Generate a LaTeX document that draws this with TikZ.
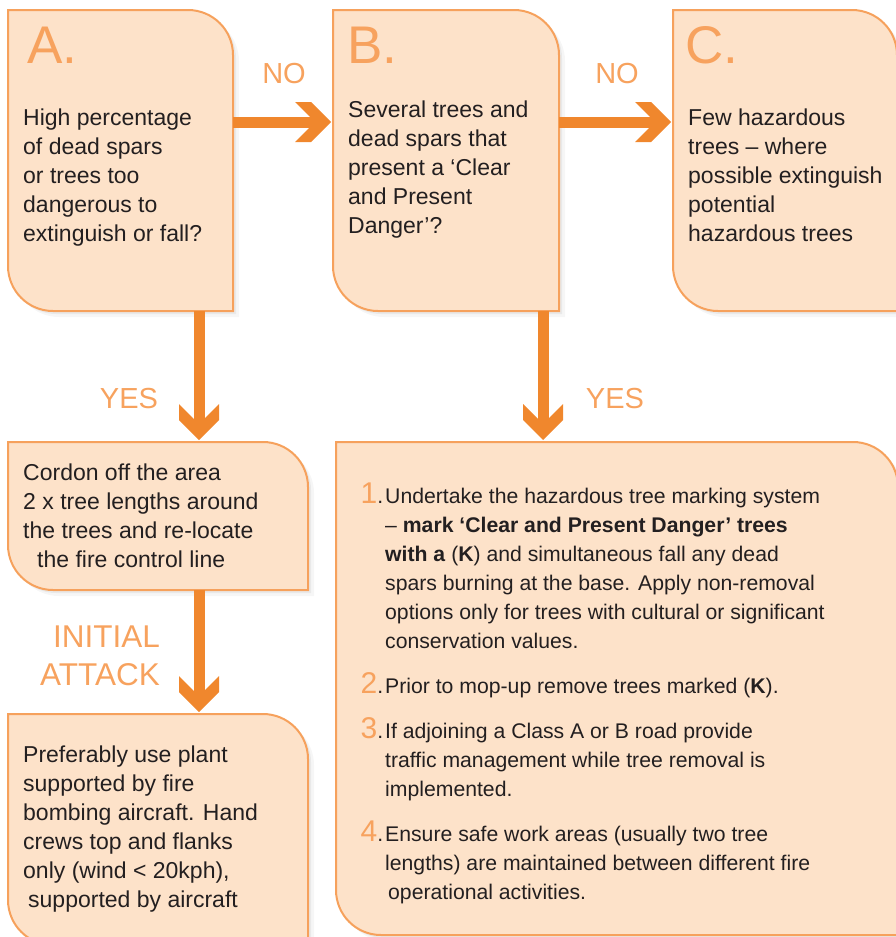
\documentclass[tikz,border=0pt]{standalone}
\usepackage{fontspec}
\setmainfont{Liberation Sans}
\usetikzlibrary{calc}
\definecolor{boxfill}{HTML}{FDE2C9}
\definecolor{boxline}{HTML}{F6A15C}
\definecolor{arrowc}{HTML}{F0872D}
\definecolor{labelc}{HTML}{F7A25E}
\definecolor{textc}{HTML}{231F20}
\newcommand\bodyfont{\fontsize{23}{29}\selectfont}
\newcommand\bigfont{\fontsize{21.2}{29}\selectfont}
\newcommand\labfont{\fontsize{29}{38}\selectfont}
\newcommand\initfont{\fontsize{31.5}{38}\selectfont}
\newcommand\letfont{\fontsize{53}{60}\selectfont}
\newcommand\numfont{\fontsize{30}{30}\selectfont}
\newcommand\flines[1]{\begin{tabular}[t]{@{}l@{}}#1\end{tabular}}
\newcommand\itemnum[1]{\llap{\smash{\textcolor{labelc}{\numfont #1}}.\hspace{2pt}}}
\newcommand\boxpath[1]{(#1.north west) -- ([xshift=-45pt]#1.north east) arc[start angle=-90,end angle=0,radius=45] -- (#1.south east) -- ([xshift=45pt]#1.south west) arc[start angle=90,end angle=180,radius=45] -- cycle}
\pgfdeclarearrow{
  name = Chev,
  setup code = {
    \pgfarrowssettipend{0pt}
    \pgfarrowssetlineend{-8pt}
    \pgfarrowssetvisualbackend{-35pt}
    \pgfarrowssetbackend{-35pt}
    \pgfarrowshullpoint{0pt}{0pt}
    \pgfarrowshullpoint{-35pt}{20pt}
    \pgfarrowshullpoint{-35pt}{-20pt}
  },
  drawing code = {
    \pgfpathmoveto{\pgfqpoint{0pt}{0pt}}
    \pgfpathlineto{\pgfqpoint{-20pt}{20pt}}
    \pgfpathlineto{\pgfqpoint{-36pt}{20pt}}
    \pgfpathlineto{\pgfqpoint{-16pt}{0pt}}
    \pgfpathlineto{\pgfqpoint{-36pt}{-20pt}}
    \pgfpathlineto{\pgfqpoint{-20pt}{-20pt}}
    \pgfpathclose
    \pgfusepathqfill
  }
}
\tikzset{
  area/.style={rectangle, inner sep=0pt, outer sep=0pt, draw=none},
  boxsty/.style={fill=boxfill, draw=boxline, line width=2pt},
  shadowsty/.style={fill=black, opacity=#1},
  body/.style={anchor=base west, inner sep=0pt, text=textc, font=\bodyfont},
  bigbody/.style={body, font=\bigfont},
  lettersty/.style={anchor=base west, inner sep=0pt, text=labelc, font=\letfont},
  lab/.style={inner sep=0pt, text=labelc, font=\labfont},
  conn/.style={color=arrowc, line width=11pt, line cap=butt, -Chev, shorten >=2pt}
}
\newcommand\drawbox[1]{%
  \path[shadowsty=.035, transform canvas={shift={(6pt,-6pt)}}] \boxpath{#1};
  \path[shadowsty=.05, transform canvas={shift={(3pt,-3pt)}}] \boxpath{#1};
  \path[boxsty] \boxpath{#1};}
\begin{document}
\begin{tikzpicture}[x=1pt, y=-1pt]
\useasboundingbox (0,0) rectangle (896,937);
\clip (0,0) rectangle (896,937);
% box areas
\node[area, minimum width=225pt, minimum height=301pt] (A) at (120.5,160.5) {};
\node[area, minimum width=226pt, minimum height=301pt] (B) at (446,160.5) {};
\node[area, minimum width=224pt, minimum height=301pt] (C) at (785,160.5) {};
\node[area, minimum width=300pt, minimum height=148pt] (Cordon) at (158,516) {};
\node[area, minimum width=300pt, minimum height=231pt] (Pref) at (158,829.5) {};
\node[area, minimum width=562pt, minimum height=493pt] (Big) at (617,688.5) {};
\drawbox{A}
\drawbox{B}
\drawbox{C}
\drawbox{Cordon}
\drawbox{Pref}
\drawbox{Big}
% letters
\node[lettersty] (Alet) at (27,63) {A.};
\node[lettersty] (Blet) at (347,63) {B.};
\node[lettersty] (Clet) at (685,63) {C.};
% body texts
\node[body] (Atext) at (23,125) {\flines{High percentage\\of dead spars\\or trees too\\dangerous to\\extinguish or fall?}};
\node[body] (Btext) at (348,117) {\flines{Several trees and\\dead spars that\\present a ‘Clear\\and Present\\Danger’?}};
\node[body] (Ctext) at (688,125) {\flines{Few hazardous\\trees – where\\possible extinguish\\potential\\hazardous trees}};
\node[body] (Cordontext) at (23,480) {\flines{Cordon off the area\\2 x tree lengths around\\the trees and re-locate\\\hspace*{14pt}the fire control line}};
\node[body] (Preftext) at (23,762) {\flines{Preferably use plant\\supported by fire\\bombing aircraft. Hand\\crews top and flanks\\only (wind < 20kph),\\\hspace*{5pt}supported by aircraft}};
\node[bigbody] (Bigtext) at (385,503) {\flines{%
\itemnum{1}Undertake the hazardous tree marking system\\
– \textbf{mark ‘Clear and Present Danger’ trees}\\
\textbf{with a }(\textbf{K}) and simultaneous fall any dead\\
spars burning at the base. Apply non-removal\\
options only for trees with cultural or significant\\
conservation values.\\[16pt]
\itemnum{2}Prior to mop-up remove trees marked (\textbf{K}).\\[16pt]
\itemnum{3}If adjoining a Class A or B road provide\\
traffic management while tree removal is\\
implemented.\\[16pt]
\itemnum{4}Ensure safe work areas (usually two tree\\
lengths) are maintained between different fire\\
\hspace*{3pt}operational activities.}};
% labels
\node[lab, anchor=base] (no1) at (284,83) {NO};
\node[lab, anchor=base] (no2) at (617,83) {NO};
\node[lab, anchor=base] (yes1) at (129,408) {YES};
\node[lab, anchor=base] (yes2) at (615,408) {YES};
\node[lab, font=\initfont, anchor=base east] (init) at (160,647) {\begin{tabular}[t]{@{}r@{}}INITIAL\\ATTACK\end{tabular}};
% connectors
\draw[conn] ([yshift=38.5pt]A.east) -- ([yshift=38.5pt]A.east -| B.west);
\draw[conn] ([yshift=38.5pt]B.east) -- ([yshift=38.5pt]B.east -| C.west);
\draw[conn] ([xshift=78.5pt]A.south) -- ([xshift=78.5pt]A.south |- Cordon.north);
\draw[conn] ([xshift=97pt]B.south) -- ([xshift=97pt]B.south |- Big.north);
\draw[conn] ([xshift=41pt]Cordon.south) -- ([xshift=41pt]Cordon.south |- Pref.north);
\end{tikzpicture}
\end{document}
